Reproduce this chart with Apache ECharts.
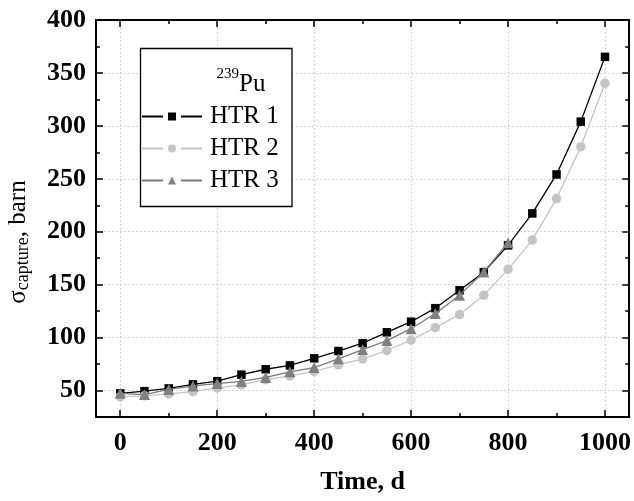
<!DOCTYPE html>
<html><head><meta charset="utf-8">
<script src="https://cdn.jsdelivr.net/npm/echarts@6/dist/echarts.min.js"></script>
<style>html,body{margin:0;padding:0;background:#fff}#c{width:634px;height:501px}</style>
</head><body><div id="c"></div>
<script>
const time = [0,50,100,150,200,250,300,350,400,450,500,550,600,650,700,750,800,850,900,950,1000];
const htr1 = [47.3,49.4,52.0,55.8,58.8,65.0,70.1,73.7,80.4,87.3,94.7,105.0,115.0,127.8,144.7,161.8,187.1,217.3,254.1,304.0,365.2];
const htr2 = [44.2,45.0,46.8,48.9,52.5,55.3,60.3,63.8,68.0,74.3,79.8,87.8,97.7,109.4,121.8,140.1,164.4,192.1,231.3,280.3,340.2];
const htr3 = [47.4,46.2,51.0,54.4,56.6,58.6,62.4,67.7,71.7,80.0,88.7,97.2,108.4,122.8,140.1,162.0,189.6];
const xMajor = [0,200,400,600,800,1000];
const xMinor = [100,300,500,700,900];
const yMajor = [50,100,150,200,250,300,350,400];
const yMinor = [75,125,175,225,275,325,375];
const names = ['HTR 1','HTR 2','HTR 3'];

const serif = 'Liberation Serif';
const X = {min:-50, max:1050};
const Y = {min:25, max:400};
function pts(xs, ys){ return ys.map((v,i)=>[xs[i], v]); }

function axisBase(range, pos, values, len, opts){
  return Object.assign({
    type:'value', min:range.min, max:range.max, position:pos, offset:0,
    axisLine:{show:true, onZero:false, lineStyle:{color:'#000', width:2}},
    axisTick:{show:true, inside:true, length:len, customValues:values, lineStyle:{color:'#000', width:1.5}},
    axisLabel:{show:false},
    splitLine:{show:false}
  }, opts||{});
}
const labelStyle = {fontFamily:serif, fontWeight:'bold', fontSize:26, color:'#000', formatter:(v)=>String(v)};
const gridLine = {show:true, lineStyle:{color:'#c8c8c8', width:1, type:[1.5,2.5]}};

const chart = echarts.init(document.getElementById('c'), null, {renderer:'canvas'});
chart.setOption({
  animation:false,
  backgroundColor:'#fff',
  grid:{left:96, top:20, right:0, bottom:84, containLabel:false},
  xAxis:[
    axisBase(X,'bottom',xMajor,7,{
      axisLabel:{show:true, customValues:xMajor, margin:13, ...labelStyle},
      splitLine:gridLine,
      name:'Time, d', nameLocation:'middle', nameGap:52,
      nameTextStyle:{fontFamily:serif, fontWeight:'bold', fontSize:26, color:'#000'}
    }),
    axisBase(X,'bottom',xMinor,4),
    axisBase(X,'top',xMajor,7),
    axisBase(X,'top',xMinor,4)
  ],
  yAxis:[
    axisBase(Y,'left',yMajor,7,{
      axisLabel:{show:true, customValues:yMajor, margin:10, ...labelStyle},
      splitLine:gridLine
    }),
    axisBase(Y,'left',yMinor,4),
    axisBase(Y,'right',yMajor,7),
    axisBase(Y,'right',yMinor,4)
  ],
  legend:{
    orient:'vertical', left:141, top:104, padding:0, itemWidth:60, itemHeight:10, itemGap:7,
    lineStyle:{type:[21,18,21]},
    textStyle:{fontFamily:serif, fontSize:25, color:'#000', padding:[0,0,0,3]},
    data:names
  },
  graphic:[
    {type:'rect', z:1, shape:{x:140.5, y:48.5, width:151.5, height:158}, style:{fill:'#fff', stroke:'#000', lineWidth:1.3}},
    {type:'text', z:5, x:241, y:82, style:{
      text:'{s|239}{m|Pu}', align:'center', verticalAlign:'middle',
      rich:{
        s:{fontFamily:serif, fontSize:15, fill:'#000', verticalAlign:'top', lineHeight:30},
        m:{fontFamily:serif, fontSize:25, fill:'#000', verticalAlign:'bottom', lineHeight:30}
      }}},
    {type:'text', z:5, x:19, y:242, rotation:Math.PI/2, style:{
      text:'{m|σ}{s|capture}{m|, barn}', align:'center', verticalAlign:'middle',
      rich:{
        m:{fontFamily:serif, fontSize:25, fill:'#000', verticalAlign:'top', lineHeight:26},
        s:{fontFamily:serif, fontSize:18, fill:'#000', verticalAlign:'bottom', lineHeight:14}
      }}}
  ],
  series:[
    {name:names[0], type:'line', data:pts(time, htr1), xAxisIndex:0, yAxisIndex:0, z:3,
      symbol:'rect', symbolSize:8.5, lineStyle:{color:'#000', width:1.3}, itemStyle:{color:'#000'}},
    {name:names[1], type:'line', data:pts(time, htr2), xAxisIndex:0, yAxisIndex:0, z:4,
      symbol:'circle', symbolSize:9.5, lineStyle:{color:'#c4c4c4', width:1.3}, itemStyle:{color:'#c4c4c4'}},
    {name:names[2], type:'line', data:pts(time.slice(0, htr3.length), htr3), xAxisIndex:0, yAxisIndex:0, z:5,
      symbol:'triangle', symbolSize:11, lineStyle:{color:'#7a7a7a', width:1.3}, itemStyle:{color:'#808080'}}
  ]
});
</script></body></html>
